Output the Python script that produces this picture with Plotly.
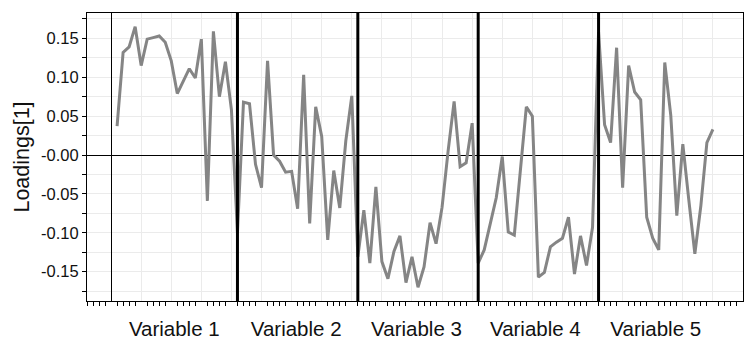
import plotly.graph_objects as go

# Loadings for 5 variables x 20 points each (x = 1..100)
var1 = [0.037, 0.132, 0.139, 0.165, 0.115, 0.149, 0.151, 0.153, 0.145, 0.121,
        0.079, 0.095, 0.111, 0.099, 0.149, -0.059, 0.159, 0.075, 0.120, 0.058]
var2 = [-0.100, 0.068, 0.066, -0.012, -0.042, 0.121, 0.000, -0.008, -0.022, -0.021,
        -0.069, 0.103, -0.088, 0.062, 0.024, -0.109, -0.020, -0.068, 0.018, 0.076]
var3 = [-0.131, -0.071, -0.139, -0.041, -0.137, -0.159, -0.124, -0.104, -0.164, -0.131,
        -0.170, -0.144, -0.087, -0.114, -0.067, 0.005, 0.069, -0.015, -0.010, 0.041]
var4 = [-0.139, -0.122, -0.088, -0.055, -0.002, -0.099, -0.103, -0.020, 0.062, 0.050,
        -0.157, -0.151, -0.118, -0.112, -0.107, -0.080, -0.153, -0.104, -0.142, -0.093]
var5 = [0.158, 0.039, 0.016, 0.138, -0.042, 0.115, 0.081, 0.071, -0.080, -0.107,
        -0.122, 0.119, 0.051, -0.078, 0.014, -0.058, -0.127, -0.065, 0.016, 0.033]

categories = ["Variable 1", "Variable 2", "Variable 3", "Variable 4", "Variable 5"]
category_centers = [10.5, 30.75, 50.75, 70.5, 90.5]
boundaries = [21, 41, 61, 81]
ytick_vals = [-0.15, -0.10, -0.05, 0.0, 0.05, 0.10, 0.15]
ytick_text = ["-0.15", "-0.10", "-0.05", "-0.00", "0.05", "0.10", "0.15"]

values = var1 + var2 + var3 + var4 + var5
xs = list(range(1, len(values) + 1))

FONT = "Liberation Sans, Arial, sans-serif"

fig = go.Figure()
fig.add_trace(go.Scatter(x=xs, y=values, mode="lines",
                         line=dict(color="#858585", width=3),
                         showlegend=False, hoverinfo="skip"))
# invisible trace to activate the label axis
fig.add_trace(go.Scatter(x=[category_centers[0]], y=[0], xaxis="x2", mode="markers",
                         marker=dict(opacity=0), showlegend=False, hoverinfo="skip"))

for b in boundaries:
    fig.add_vline(x=b, line=dict(color="black", width=3))

xr = [-4, 105]
fig.update_layout(
    width=746, height=342,
    margin=dict(l=87, r=2, t=13, b=37),
    paper_bgcolor="white", plot_bgcolor="white",
    font=dict(family=FONT, color="#111111"),
    xaxis=dict(range=xr, tick0=0, dtick=5, showticklabels=False,
               ticks="", showgrid=True, gridcolor="#ebebeb", gridwidth=1,
               zeroline=True, zerolinecolor="black", zerolinewidth=1,
               showline=True, linecolor="black", linewidth=1, mirror=True,
               minor=dict(tick0=1, dtick=1, ticks="outside", ticklen=4,
                          tickcolor="black", tickwidth=1, showgrid=False)),
    xaxis2=dict(range=xr, overlaying="x", anchor="y", side="bottom",
                tickmode="array", tickvals=category_centers, ticktext=categories,
                ticks="outside", ticklen=9, tickcolor="rgba(0,0,0,0)",
                showgrid=False, zeroline=False, showline=False,
                tickfont=dict(size=20.5, family=FONT, color="#111111")),
    yaxis=dict(range=[-0.1877, 0.1826], tickmode="array",
               tickvals=ytick_vals, ticktext=ytick_text,
               ticks="outside", ticklen=4, tickcolor="black",
               tickfont=dict(size=16.5, family=FONT, color="#111111"),
               showgrid=True, gridcolor="#ebebeb", gridwidth=1,
               zeroline=True, zerolinecolor="black", zerolinewidth=1,
               showline=True, linecolor="black", linewidth=1, mirror=True,
               title=dict(text="Loadings[1]", font=dict(size=21.5, family=FONT, color="#111111"),
                          standoff=5),
               minor=dict(tickvals=[-0.175, -0.125, -0.075, -0.025, 0.025, 0.075, 0.125, 0.175],
                          ticks="outside", ticklen=4, tickcolor="black",
                          showgrid=True, gridcolor="#ebebeb", gridwidth=1)),
)

fig.write_html("out.html")
